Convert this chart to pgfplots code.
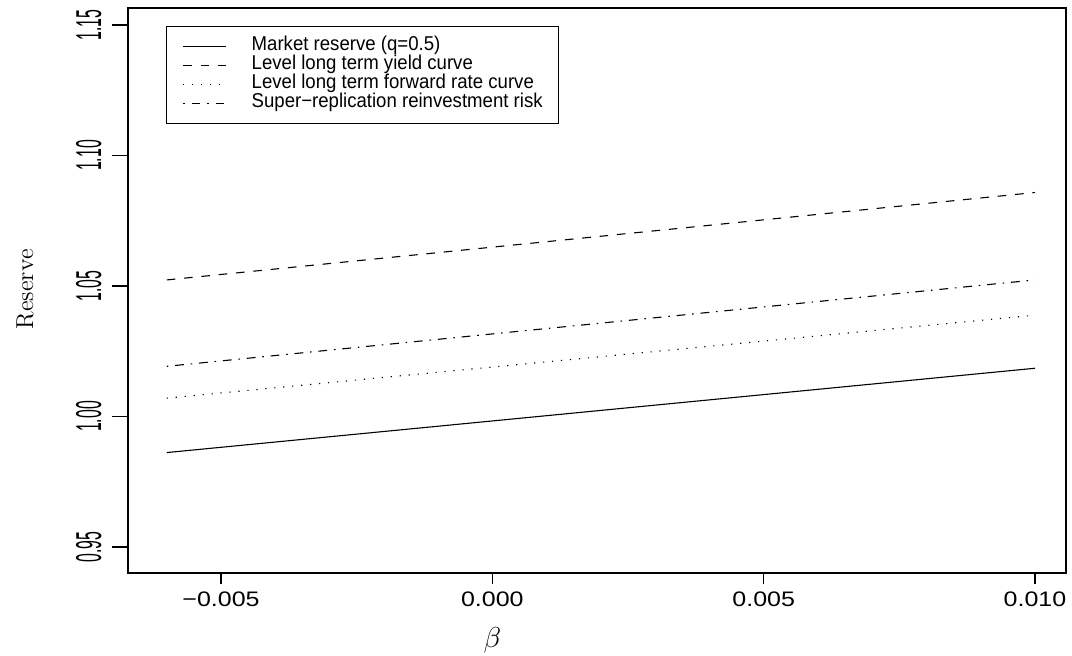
\documentclass[border=0pt]{standalone}
\usepackage{pgfplots}
\pgfplotsset{compat=1.18}
\usepackage{fontspec}
\newfontfamily\wfont{Liberation Sans}[FakeStretch=1.19]
\newfontfamily\lfont{Liberation Sans}[FakeStretch=0.93]
\newfontfamily\tfont{Liberation Sans}[FakeStretch=0.44]
\newfontfamily\lmc{Latin Modern Roman}
\begin{document}
\begin{tikzpicture}
\path[use as bounding box] (-64pt,-41pt) rectangle (472pt,286.5pt);
\begin{axis}[
  scale only axis, width=469pt, height=282.5pt,
  xmin=-0.006714, xmax=0.010571, ymin=0.94, ymax=1.1565,
  scaled x ticks=false, scaled y ticks=false,
  axis line style={line width=0.6pt},
  tick align=outside, xtick pos=left, ytick pos=left,
  xtick={-0.005,0,0.005,0.01}, xticklabels={−0.005,0.000,0.005,0.010},
  ytick={0.95,1,1.05,1.1,1.15}, yticklabels={0.95,1.00,1.05,1.10,1.15},
  major tick length=8pt,
  xtick style={/pgfplots/major tick length=5.3pt, line width=0.6pt, black},
  ytick style={line width=0.6pt, black},
  xticklabel style={font=\wfont\fontsize{10.5}{12}\selectfont, anchor=north, inner sep=0pt},
  xticklabel shift=1pt,
  yticklabel style={font=\tfont\fontsize{18}{20}\selectfont, rotate=90, anchor=south, inner sep=0pt},
  yticklabel shift=5pt,
  xlabel={\fontsize{15}{17}\selectfont$\beta$},
  xlabel style={at={(axis description cs:0.3884,-0.1185)}, anchor=center, inner sep=0pt},
  ylabel={\lmc\fontsize{12.2}{14}\selectfont Reserve},
  ylabel style={at={(axis description cs:-0.1002,0.502)}, anchor=south, inner sep=0pt},
  legend style={at={(axis description cs:0.0405,0.968)}, anchor=north west,
    draw=black, line width=0.6pt, inner xsep=8pt, inner ysep=5.25pt,
    font=\lfont\fontsize{10}{11}\selectfont,
    nodes={inner sep=0pt, text height=6.8pt, text depth=2.7pt},
    /tikz/every odd column/.append style={column sep=12.5pt}},
  legend cell align=left,
  legend image code/.code={\draw[#1] (0pt,0pt) -- (21.5pt,0pt);},
]
\addplot[black, line width=0.55pt] coordinates {(-0.006,0.98615) (0.010,1.01846)};
\addlegendentry{Market reserve (q=0.5)}
\addplot[black, line width=0.55pt, dash pattern=on 4.3pt off 4.4pt] coordinates {(-0.006,1.0523) (0.010,1.0858)};
\addlegendentry{Level long term yield curve}
\addplot[black, line width=0.55pt, dash pattern=on 0.6pt off 3.9pt] coordinates {(-0.006,1.0070) (0.010,1.0388)};
\addlegendentry{Level long term forward rate curve}
\addplot[black, line width=0.55pt, dash pattern=on 0.8pt off 3.4pt on 4.4pt off 3.4pt] coordinates {(-0.006,1.0192) (0.010,1.0523)};
\addlegendentry{Super−replication reinvestment risk}
\end{axis}
\end{tikzpicture}
\end{document}
